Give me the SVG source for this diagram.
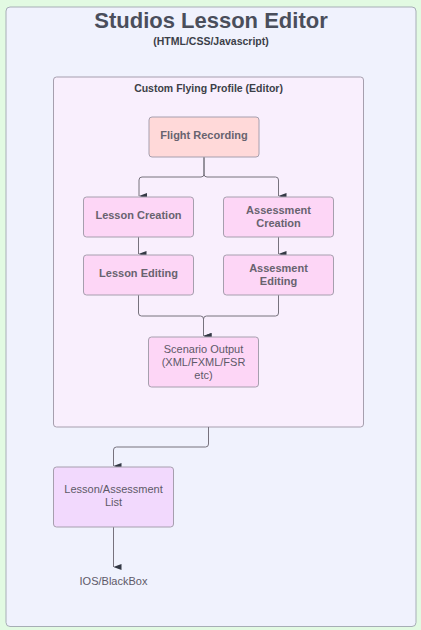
<svg xmlns="http://www.w3.org/2000/svg" width="421" height="630" viewBox="0 0 421 630">
<defs>
<style>
.t{font-family:"Liberation Sans",Arial,sans-serif;text-anchor:middle}
.b{font-weight:bold;font-size:11px;fill:#68636f}
.n{font-size:11px;fill:#5e5968}
.node{stroke:#a69fae;stroke-width:1}
.c{fill:none;stroke:#77727d;stroke-width:1}
</style>
<marker id="ah" viewBox="0 0 6 8" refX="3" refY="8" markerWidth="6" markerHeight="8" orient="auto-start-reverse" markerUnits="userSpaceOnUse">
<path d="M0,0 L6,0 L3,8 Z" fill="#333844"/>
</marker>
</defs>
<rect x="0" y="0" width="421" height="630" fill="#e2fae2"/>
<g id="studios">
<rect x="6" y="7" width="410" height="619.5" rx="4" fill="#f0f2fd" stroke="#a7aeb6" stroke-width="1"/>
<text class="t" x="211" y="27.5" font-size="22" font-weight="bold" fill="#4a4e5b">Studios Lesson Editor</text>
<text class="t" x="211" y="45" font-size="10.5" font-weight="bold" fill="#3c3f48">(HTML/CSS/Javascript)</text>
</g>
<g id="custom-profile">
<rect x="53.5" y="77" width="310" height="350" rx="3" fill="#f9effd" stroke="#a69fae" stroke-width="1"/>
<text class="t" x="208.5" y="91.5" font-size="10.5" font-weight="bold" fill="#3c3f48">Custom Flying Profile (Editor)</text>
</g>
<g id="connectors">
<path class="c" d="M204,157 V174 Q204,177 201,177 H142 Q139,177 139,180 V196" marker-end="url(#ah)"/>
<path class="c" d="M204,157 V174 Q204,177 207,177 H275.5 Q278.5,177 278.5,180 V196" marker-end="url(#ah)"/>
<path class="c" d="M138.5,237 V254" marker-end="url(#ah)"/>
<path class="c" d="M278.5,237 V254" marker-end="url(#ah)"/>
<path class="c" d="M138.5,295 V313 Q138.5,316 141.5,316 H200.5 Q203.5,316 203.5,319 V336" marker-end="url(#ah)"/>
<path class="c" d="M278.5,295 V313 Q278.5,316 275.5,316 H206.5 Q203.5,316 203.5,319 V336" marker-end="url(#ah)"/>
<path class="c" d="M208.5,427 V444 Q208.5,447 205.5,447 H116.5 Q113.5,447 113.5,450 V466" marker-end="url(#ah)"/>
<path class="c" d="M113.5,527 V567" marker-end="url(#ah)"/>
</g>
<g id="flight-recording">
<rect class="node" x="149" y="117" width="110" height="40" rx="3" fill="#ffd9d9"/>
<text class="t b" x="204" y="139">Flight Recording</text>
</g>
<g id="lesson-creation">
<rect class="node" x="83.5" y="197" width="110" height="40" rx="3" fill="#fdd6f6"/>
<text class="t b" x="138.5" y="218.5">Lesson Creation</text>
</g>
<g id="assessment-creation">
<rect class="node" x="223.5" y="197" width="110" height="40" rx="3" fill="#fdd6f6"/>
<text class="t b" x="278.5" y="213.5">Assessment</text>
<text class="t b" x="278.5" y="226.8">Creation</text>
</g>
<g id="lesson-editing">
<rect class="node" x="83.5" y="255" width="110" height="40" rx="3" fill="#fdd6f6"/>
<text class="t b" x="138.5" y="276.5">Lesson Editing</text>
</g>
<g id="assesment-editing">
<rect class="node" x="223.5" y="255" width="110" height="40" rx="3" fill="#fdd6f6"/>
<text class="t b" x="278.5" y="272">Assesment</text>
<text class="t b" x="278.5" y="285.3">Editing</text>
</g>
<g id="scenario-output">
<rect class="node" x="148.5" y="337" width="110" height="50" rx="3" fill="#fdd6f6"/>
<text class="t n" x="203.5" y="352.5">Scenario Output</text>
<text class="t n" x="203.5" y="365.5">(XML/FXML/FSR</text>
<text class="t n" x="203.5" y="378.5">etc)</text>
</g>
<g id="lesson-assessment-list">
<rect class="node" x="53.5" y="467" width="120" height="60" rx="3" fill="#f2d9fd"/>
<text class="t n" x="113.5" y="492.5">Lesson/Assessment</text>
<text class="t n" x="113.5" y="505.5">List</text>
</g>
<g id="ios-blackbox">
<text class="t n" x="113.5" y="584.5">IOS/BlackBox</text>
</g>
</svg>
